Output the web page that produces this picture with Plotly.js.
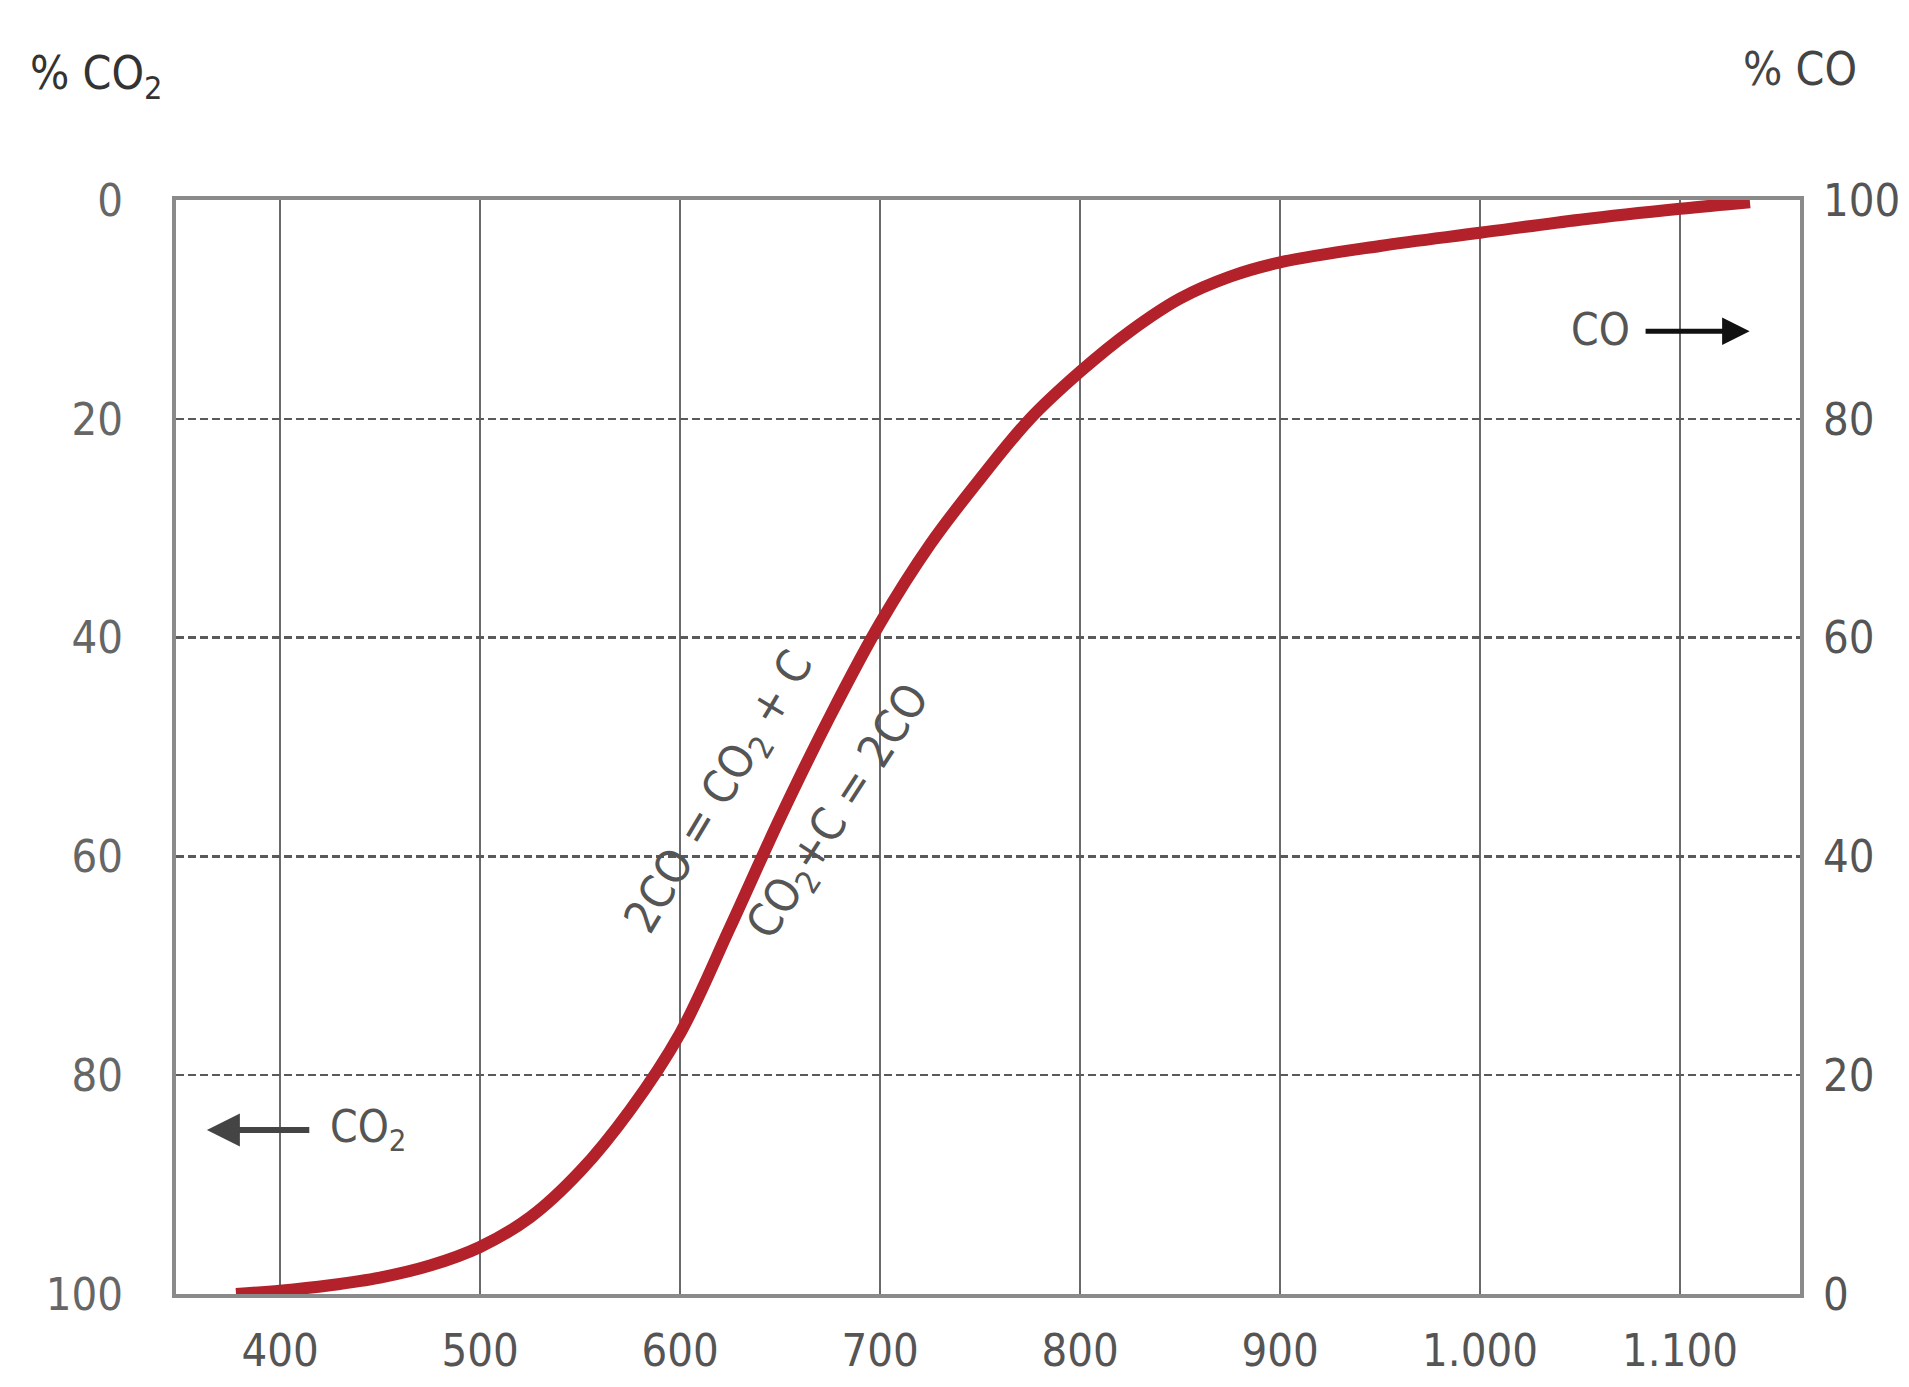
<!DOCTYPE html>
<html>
<head>
<meta charset="utf-8">
<script src="https://cdn.plot.ly/plotly-3.0.1.min.js"></script>
<style>html,body{margin:0;padding:0;background:#fff;}#chart{width:1909px;height:1387px;}</style>
</head>
<body>
<div id="chart"></div>
<script>
// Temperature (°C) and % CO in the CO/CO2 gas mixture (Boudouard equilibrium)
const temperature = [378, 400, 425, 450, 475, 500, 525, 550, 575, 600, 625, 650, 675, 700, 725, 750, 775, 800, 825, 850, 875, 900, 950, 1000, 1050, 1100, 1135];
const pctCO       = [0, 0.3, 0.8, 1.5, 2.6, 4.3, 7.0, 11.2, 16.8, 23.8, 33.5, 43.5, 52.8, 61.3, 68.5, 74.5, 80, 84.3, 88, 91, 93, 94.3, 95.8, 97, 98.2, 99.2, 99.8];

const xTickVals  = [400, 500, 600, 700, 800, 900, 1000, 1100];
const xTickText  = ['400', '500', '600', '700', '800', '900', '1.000', '1.100'];
const co2TickVals = [0, 20, 40, 60, 80, 100];
const coTickVals  = [0, 20, 40, 60, 80, 100];

const FONT = '"DejaVu Sans Condensed", "Liberation Sans Narrow", "DejaVu Sans", sans-serif';

const curve = {
  x: temperature,
  y: pctCO,
  xaxis: 'x',
  yaxis: 'y2',
  mode: 'lines',
  line: {color: '#b3212b', width: 12, shape: 'spline', smoothing: 1},
  hoverinfo: 'x+y',
  showlegend: false
};
// empty trace so that the left (% CO2) axis subplot is created and drawn
const co2AxisHolder = {x: [], y: [], xaxis: 'x', yaxis: 'y', mode: 'lines', showlegend: false, hoverinfo: 'skip'};

const layout = {
  width: 1909,
  height: 1387,
  margin: {l: 176, r: 109, t: 200, b: 93},
  paper_bgcolor: '#ffffff',
  plot_bgcolor: '#ffffff',
  font: {family: FONT, color: '#444'},
  xaxis: {
    range: [348, 1160],
    tickvals: xTickVals,
    ticktext: xTickText,
    showgrid: true,
    gridcolor: '#6a6a6a',
    gridwidth: 1.5,
    zeroline: false,
    showline: true,
    linecolor: '#8a8a8a',
    linewidth: 4,
    mirror: true,
    ticks: '',
    ticklabelstandoff: 14,
    tickfont: {family: FONT, size: 45, color: '#555'}
  },
  yaxis: {
    range: [100, 0],
    tickvals: co2TickVals,
    showgrid: true,
    gridcolor: '#5a5a5a',
    gridwidth: 2.5,
    griddash: '8px,4px',
    zeroline: false,
    showline: true,
    linecolor: '#8a8a8a',
    linewidth: 4,
    mirror: true,
    ticks: '',
    ticklabelstandoff: 40,
    tickfont: {family: FONT, size: 45, color: '#666'}
  },
  yaxis2: {
    range: [0, 100],
    overlaying: 'y',
    side: 'right',
    tickvals: coTickVals,
    showgrid: false,
    zeroline: false,
    showline: false,
    ticks: '',
    ticklabelstandoff: 22,
    tickfont: {family: FONT, size: 45, color: '#555'}
  },
  annotations: [
    {xref: 'paper', yref: 'paper', x: -0.049, y: 1.113, text: '% CO<sub>2</sub>', showarrow: false,
     xanchor: 'center', yanchor: 'middle', font: {family: FONT, size: 46, color: '#333'}},
    {xref: 'paper', yref: 'paper', x: 1.0, y: 1.12, text: '% CO', showarrow: false,
     xanchor: 'center', yanchor: 'middle', font: {family: FONT, size: 46, color: '#444'}},
    {xref: 'paper', yref: 'paper', x: 0.877, y: 0.882, text: 'CO', showarrow: false,
     xanchor: 'center', yanchor: 'middle', font: {family: FONT, size: 44, color: '#555'}},
    {xref: 'paper', yref: 'paper', axref: 'paper', ayref: 'paper',
     x: 0.969, y: 0.880, ax: 0.904, ay: 0.880, text: '', showarrow: true,
     arrowhead: 2, arrowsize: 1.1, arrowwidth: 5, arrowcolor: '#111'},
    {xref: 'paper', yref: 'paper', x: 0.118, y: 0.150, text: 'CO<sub>2</sub>', showarrow: false,
     xanchor: 'center', yanchor: 'middle', font: {family: FONT, size: 44, color: '#555'}},
    {xref: 'paper', yref: 'paper', axref: 'paper', ayref: 'paper',
     x: 0.019, y: 0.150, ax: 0.083, ay: 0.150, text: '', showarrow: true,
     arrowhead: 2, arrowsize: 1.1, arrowwidth: 6, arrowcolor: '#444'},
    {xref: 'paper', yref: 'paper', x: 0.336, y: 0.458, text: '2CO = CO<sub>2</sub> + C', showarrow: false,
     textangle: -59, xanchor: 'center', yanchor: 'middle', font: {family: FONT, size: 46, color: '#555'}},
    {xref: 'paper', yref: 'paper', x: 0.409, y: 0.440, text: 'CO<sub>2</sub>+C = 2CO', showarrow: false,
     textangle: -57, xanchor: 'center', yanchor: 'middle', font: {family: FONT, size: 46, color: '#555'}}
  ]
};

Plotly.newPlot('chart', [co2AxisHolder, curve], layout, {displayModeBar: false, staticPlot: true});
</script>
</body>
</html>
